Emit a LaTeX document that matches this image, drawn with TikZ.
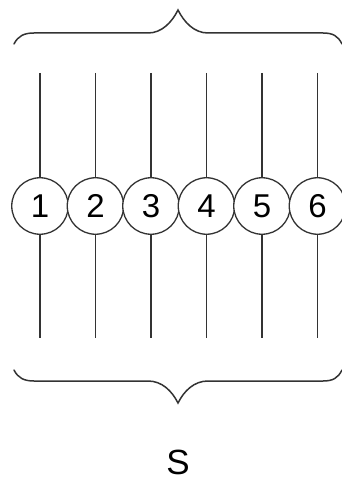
\documentclass[tikz,border=0pt]{standalone}
\usepackage{fontspec}
\setmainfont{Liberation Sans}
\usetikzlibrary{positioning}
\definecolor{InkGray}{HTML}{333333}
\tikzset{
  pole/.style={circle, draw=InkGray, line width=1.3pt, fill=white, minimum size=56.5pt, inner sep=0pt, font=\fontsize{33}{33}\selectfont},
  wire/.style={draw=InkGray, line width=1.4pt},
  bracket/.style={draw=InkGray, line width=1.5pt, line cap=round}
}
\begin{document}
\begin{tikzpicture}[x=1pt, y=-1pt]
\useasboundingbox (0,0) rectangle (341,481);
% six poles with their leads
\foreach \i in {1,...,6} {
  \coordinate (t\i) at ({40+55.5*(\i-1)},73);
  \coordinate (b\i) at ({40+55.5*(\i-1)},338);
  \node[pole] (c\i) at ({40+55.5*(\i-1)},206) {\i};
  \draw[wire] (t\i) -- (c\i);
  \draw[wire] (c\i) -- (b\i);
}
% upper brace
\draw[bracket] (14,44) .. controls (18,36) and (24,33) .. (34,33) -- (148,33)
  .. controls (162,33) and (172,22) .. (178,10)
  .. controls (184,22) and (194,33) .. (208,33) -- (323,33)
  .. controls (333,33) and (338,36) .. (342,44);
% lower brace
\draw[bracket] (14,370) .. controls (18,378) and (24,381) .. (34,381) -- (148,381)
  .. controls (162,381) and (172,391) .. (178,403)
  .. controls (184,391) and (194,381) .. (208,381) -- (323,381)
  .. controls (333,381) and (338,378) .. (342,370);
\node[font=\fontsize{35}{35}\selectfont, inner sep=0pt] (lbl) at (178,462) {S};
\end{tikzpicture}
\end{document}
